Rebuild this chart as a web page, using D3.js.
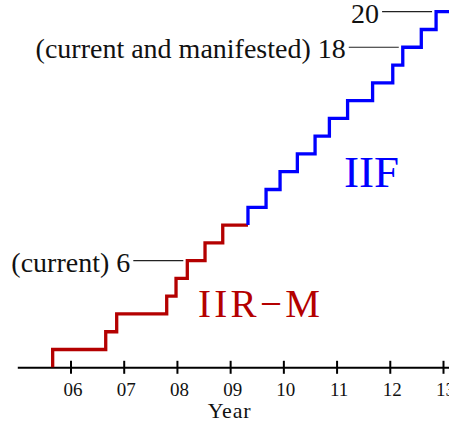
<!DOCTYPE html>
<html>
<head>
<meta charset="utf-8">
<script src="https://cdn.jsdelivr.net/npm/d3@7"></script>
<style>
  html, body { margin: 0; padding: 0; background: #fff; }
  svg { display: block; }
  text { font-family: "Liberation Serif", "Times New Roman", serif; }
</style>
</head>
<body>
<svg id="chart" width="449" height="423"></svg>
<script>
// ---- data ----
const iirmYears = [5.665, 6.662, 6.868, 7.808, 7.983, 8.195, 8.528, 8.861];
const iifYears = [9.335, 9.675, 9.938, 10.263, 10.596, 10.865, 11.207, 11.677, 12.056, 12.244, 12.592, 12.870];
const tickYears = [6, 7, 8, 9, 10, 11, 12, 13];
const tickLabels = ["06", "07", "08", "09", "10", "11", "12", "13"];
const calloutCounts = [6, 18, 20];
const calloutTexts = ["(current) 6", "(current and manifested) 18", "20"];
const seriesNames = ["IIR\u2212M", "IIF"];
const xLabel = "Year";

const svg = d3.select("#chart");
const x = d3.scaleLinear().domain([6, 13]).range([70.5, 443]);
const y = d3.scaleLinear().domain([0, 20]).range([367.3, 11.7]);

// cumulative points
const redPts = [{x: iirmYears[0], y: 0}]
  .concat(iirmYears.map((v, i) => ({x: v, y: i + 1})))
  .concat([{x: iifYears[0], y: iirmYears.length}]);
const bluePts = [{x: iifYears[0], y: iirmYears.length}]
  .concat(iifYears.map((v, i) => ({x: v, y: iirmYears.length + i + 1})))
  .concat([{x: 13.4, y: iirmYears.length + iifYears.length}]);

const line = d3.line().x(d => x(d.x)).y(d => y(d.y)).curve(d3.curveStepAfter);

// axis (domain extends from year 5 to past the right edge)
const xa = d3.scaleLinear().domain([5, 13.4]).range([x(5), x(13.4)]);
const axisG = svg.append("g").attr("transform", `translate(0,${y(0)})`)
  .call(d3.axisBottom(xa).tickValues(tickYears).tickFormat((d, i) => tickLabels[i]).tickSizeOuter(0));
axisG.select(".domain").attr("stroke", "#000").attr("stroke-width", 2);
axisG.selectAll(".tick line").attr("y1", -6.5).attr("y2", 6.5).attr("stroke", "#000").attr("stroke-width", 2);
axisG.selectAll(".tick text")
  .attr("y", 29).attr("dy", null).attr("x", 2)
  .attr("font-size", 19).attr("fill", "#111")
  .style("font-family", "'Liberation Serif', serif");

svg.append("text").attr("x", 229.5).attr("y", 418)
  .attr("text-anchor", "middle").attr("font-size", 22).attr("letter-spacing", 0.8).attr("fill", "#111")
  .text(xLabel);

// step lines
svg.append("path").attr("d", line(redPts)).attr("fill", "none")
  .attr("stroke", "#b40000").attr("stroke-width", 3.3).attr("stroke-linejoin", "miter");
svg.append("path").attr("d", line(bluePts)).attr("fill", "none")
  .attr("stroke", "#0000ff").attr("stroke-width", 3.3).attr("stroke-linejoin", "miter");

// callouts
const allYears = iirmYears.concat(iifYears);
calloutCounts.forEach((c, i) => {
  const xe = x(allYears[c - 1]) - 4;
  const xs = xe - 50;
  const yy = y(c);
  svg.append("line").attr("x1", xs).attr("x2", xe).attr("y1", yy).attr("y2", yy)
    .attr("stroke", "#222").attr("stroke-width", 1.2);
  svg.append("text").attr("x", xs - 3).attr("y", yy + 11)
    .attr("text-anchor", "end").attr("font-size", 28).attr("fill", "#111")
    .text(calloutTexts[i]);
});

// series labels
svg.append("text").attr("x", 198).attr("y", 317).attr("font-size", 39)
  .attr("letter-spacing", 3.3).attr("fill", "#b40000").text(seriesNames[0]);
svg.append("text").attr("x", 344).attr("y", 187).attr("font-size", 45)
  .attr("fill", "#0000ff").text(seriesNames[1]);
</script>
</body>
</html>
